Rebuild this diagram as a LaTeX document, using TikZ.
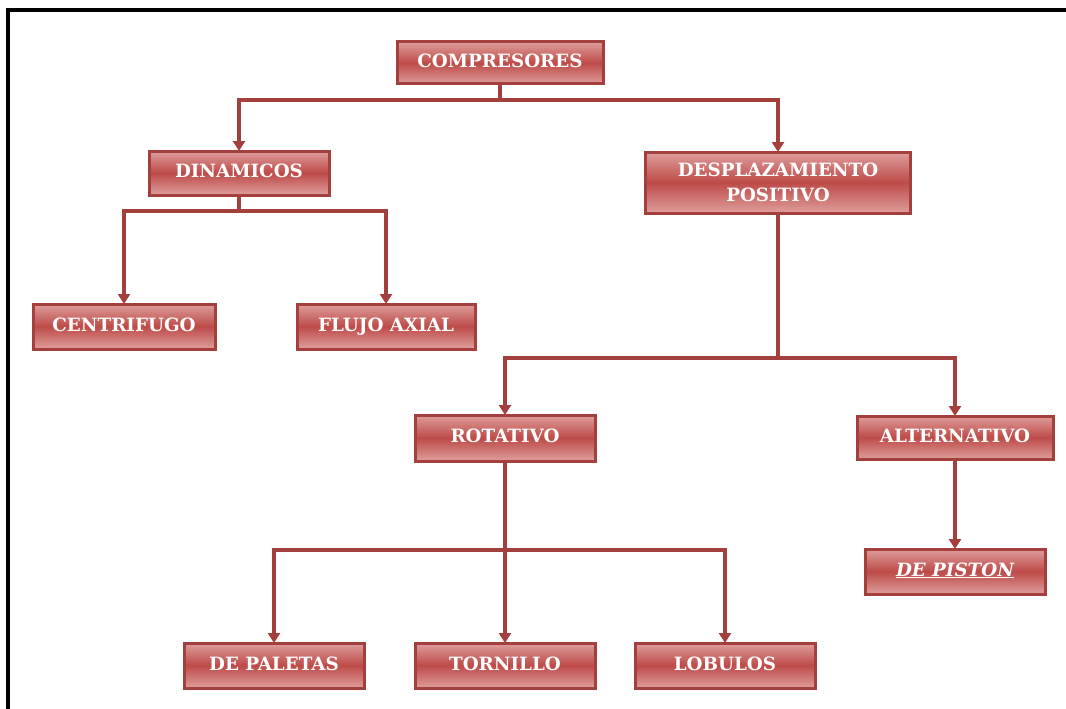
\documentclass[tikz,border=0pt]{standalone}
\usepackage{fontspec}
\setmainfont{DejaVu Serif}
\usepackage{tikz}
\usetikzlibrary{positioning,arrows.meta}
\definecolor{boxred}{HTML}{BD4B48}
\definecolor{boxpink}{HTML}{DE9E9C}
\definecolor{linered}{HTML}{A33F3C}

\begin{document}
\begin{tikzpicture}[x=1pt, y=-1pt]
\tikzstyle{box}=[rectangle, draw=linered, line width=3pt, top color=boxpink, bottom color=boxpink, middle color=boxred, minimum width=180pt, minimum height=44pt, inner sep=0pt, outer sep=0pt, align=center, text=white, text height=13pt, text depth=4pt, font=\fontsize{18.3}{25}\selectfont\bfseries]
\tikzstyle{link}=[draw=linered, line width=3.5pt]
\tikzstyle{connect}=[-{Triangle[length=10pt,width=12pt]}, draw=linered, line width=3.5pt]
\useasboundingbox (0,0) rectangle (1066,709);
\draw[line width=4pt] (8,709) -- (8,10) -- (1066,10);
% nodes
\node[box, minimum width=206pt, minimum height=42pt] (Compresores) at (500,63) {COMPRESORES};
\node[box] (Dinamicos) [below=67pt of Compresores, xshift=-261pt] {DINAMICOS};
\node[box, minimum width=265pt, minimum height=61pt, text height=, text depth=] (Desplazamiento) [below=68pt of Compresores, xshift=278pt] {DESPLAZAMIENTO\\POSITIVO};
\node[box, minimum width=182pt, minimum height=45pt] (Centrifugo) [below=109pt of Dinamicos, xshift=-115pt] {CENTRIFUGO};
\node[box, minimum width=178pt, minimum height=45pt] (FlujoAxial) [below=109pt of Dinamicos, xshift=147pt] {FLUJO AXIAL};
\node[box, minimum height=46pt] (Rotativo) [below=202pt of Desplazamiento, xshift=-273pt] {ROTATIVO};
\node[box, minimum width=196pt, minimum height=43pt] (Alternativo) [below=203pt of Desplazamiento, xshift=177pt] {ALTERNATIVO};
\node[box, minimum height=45pt] (DePiston) [below=90pt of Alternativo] {\underline{\itshape DE PISTON}};
\node[box, minimum height=45pt] (DePaletas) [below=182pt of Rotativo, xshift=-231pt] {DE PALETAS};
\node[box, minimum height=45pt] (Tornillo) [below=182pt of Rotativo] {TORNILLO};
\node[box, minimum height=45pt] (Lobulos) [below=182pt of Rotativo, xshift=220pt] {LOBULOS};
% junctions
\coordinate (CompJoin) at ([yshift=-16pt]Compresores.south);
\coordinate (DinJoin) at ([yshift=-16pt]Dinamicos.south);
\coordinate (DespJoin) at ([yshift=-145pt]Desplazamiento.south);
\coordinate (RotJoin) at ([yshift=-89pt]Rotativo.south);
\path[link] (Compresores) -- (CompJoin);
\path[connect] (CompJoin) -| (Dinamicos);
\path[connect] (CompJoin) -| (Desplazamiento);
\path[link] (Dinamicos) -- (DinJoin);
\path[connect] (DinJoin) -| (Centrifugo);
\path[connect] (DinJoin) -| (FlujoAxial);
\path[link] (Desplazamiento) -- (DespJoin);
\path[connect] (DespJoin) -| (Rotativo);
\path[connect] (DespJoin) -| (Alternativo);
\path[connect] (Alternativo) -- (DePiston);
\path[link] (Rotativo) -- (RotJoin);
\path[connect] (RotJoin) -| (DePaletas);
\path[connect] (RotJoin) -- (Tornillo);
\path[connect] (RotJoin) -| (Lobulos);
\end{tikzpicture}
\end{document}
